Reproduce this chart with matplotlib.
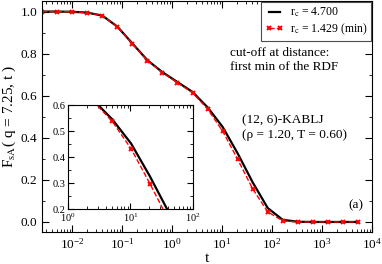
import numpy as np
import matplotlib
matplotlib.use('Agg')
import matplotlib.pyplot as plt
from matplotlib.ticker import LogLocator, MultipleLocator, NullFormatter

plt.rcParams['font.family'] = ['Liberation Serif', 'DejaVu Serif']
plt.rcParams['mathtext.fontset'] = 'stix'

# times sampled by factor 2 from 0.0025
t = [0.0025, 0.005, 0.01, 0.02, 0.04, 0.08, 0.16, 0.32, 0.64, 1.28, 2.56,
     5.12, 10.24, 20.48, 40.96, 81.92, 163.84, 327.68, 655.36, 1310.72,
     2621.44, 5242.88]
fs_full = [1.0, 1.0, 0.999, 0.995, 0.981, 0.929, 0.849, 0.769, 0.712, 0.665,
           0.618, 0.545, 0.452, 0.326, 0.188, 0.066, 0.010, 0.001, 0.0, 0.0,
           0.0, 0.0]
fs_min = [1.0, 1.0, 0.999, 0.995, 0.981, 0.929, 0.848, 0.767, 0.710, 0.662,
          0.614, 0.537, 0.432, 0.298, 0.157, 0.048, 0.005, 0.0, 0.0, 0.0,
          0.0, 0.0]
main_xticks = [1e-2, 1e-1, 1e0, 1e1, 1e2, 1e3, 1e4]
inset_xticks = [1e0, 1e1, 1e2]


def style_axes(ax, size):
    ax.tick_params(which='both', direction='in', top=True, right=True,
                   labelsize=size)
    ax.tick_params(which='major', length=5)
    ax.tick_params(which='minor', length=2.5)
    ax.xaxis.set_minor_locator(LogLocator(base=10, subs=np.arange(2, 10), numticks=20))
    ax.xaxis.set_minor_formatter(NullFormatter())
    for s in ax.spines.values():
        s.set_linewidth(0.8)


fig = plt.figure(figsize=(3.82, 2.64), dpi=100)
ax = fig.add_axes([0.11, 0.121, 0.864, 0.875])

ax.plot(t, fs_full, color='black', lw=1.6, label=r'r$_{\rm c}$ = 4.700')
ax.plot(t, fs_min, color='red', lw=1.0, ls='--', marker='x', ms=3.5, mew=1.4,
        label=r'r$_{\rm c}$ = 1.429 (min)')
ax.set_xscale('log')
ax.set_xlim(0.0025, 1e4)
ax.set_ylim(-0.048, 1.05)
ax.set_xticks(main_xticks)
ax.yaxis.set_minor_locator(MultipleLocator(0.1))
ax.set_yticks([0.0, 0.2, 0.4, 0.6, 0.8, 1.0])
ax.set_yticklabels(['0.0', '0.2', '0.4', '0.6', '0.8', '1.0'])
style_axes(ax, 9.5)
ax.set_xlabel('t', fontsize=11, labelpad=0)
ax.set_ylabel(r'F$_{\rm sA}$( q = 7.25, t )', fontsize=11, labelpad=2)

leg = ax.legend(loc='upper right', fontsize=8.5, numpoints=2, fancybox=False,
                edgecolor='0.3', framealpha=1, borderaxespad=0.1,
                handlelength=1.6, handletextpad=0.5, borderpad=0.3,
                labelspacing=0.2)
leg.get_frame().set_linewidth(0.8)

ax.text(0.57, 0.745, 'cut-off at distance:\nfirst min of the RDF',
        transform=ax.transAxes, fontsize=9.5, va='center', ha='left',
        linespacing=1.3)
ax.text(0.605, 0.45, '(12, 6)-KABLJ\n(\u03c1 = 1.20, T = 0.60)',
        transform=ax.transAxes, fontsize=9.5, va='center', ha='left',
        linespacing=1.3)
ax.text(0.975, 0.115, '(a)', transform=ax.transAxes, fontsize=9.5,
        ha='right', va='center')

ins = fig.add_axes([0.178, 0.208, 0.327, 0.394])
ins.plot(t, fs_full, color='black', lw=1.6)
ins.plot(t, fs_min, color='red', lw=1.0, ls='--', marker='x', ms=3.5, mew=1.4)
ins.set_xscale('log')
ins.set_xlim(1, 100)
ins.set_ylim(0.2, 0.6)
ins.set_xticks(inset_xticks)
ins.yaxis.set_major_locator(MultipleLocator(0.1))
ins.yaxis.set_minor_locator(MultipleLocator(0.05))
style_axes(ins, 7.5)
ins.tick_params(which='major', length=4, pad=2)
ins.tick_params(which='minor', length=2)

fig.savefig('out.png', dpi=100)
